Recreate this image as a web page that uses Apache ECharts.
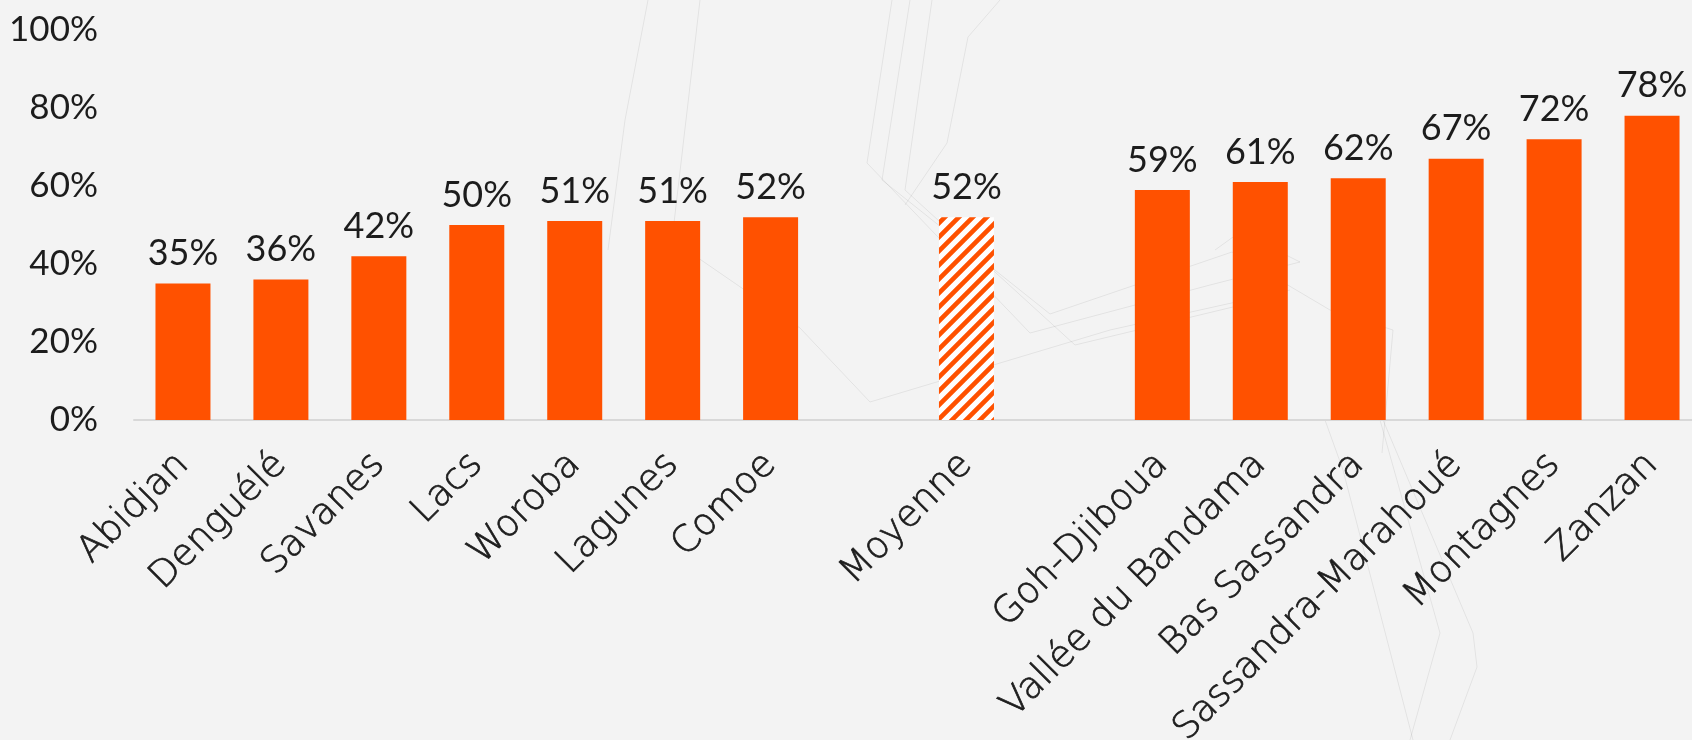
<!DOCTYPE html>
<html>
<head>
<meta charset="utf-8">
<title>Taux par région</title>
<script src="https://cdn.jsdelivr.net/npm/echarts@6/dist/echarts.min.js"></script>
<style>
  html, body { margin: 0; padding: 0; background: #f3f3f3; }
  #chart { width: 1692px; height: 740px; }
</style>
</head>
<body>
<div id="chart"></div>
<script>
// Regions sorted by rate, with the national average in the middle
// (empty strings are spacer slots on the category axis).
const categories = [
  'Abidjan', 'Denguélé', 'Savanes', 'Lacs', 'Woroba', 'Lagunes', 'Comoe',
  '', 'Moyenne', '',
  'Goh-Djiboua', 'Vallée du Bandama', 'Bas Sassandra', 'Sassandra-Marahoué', 'Montagnes', 'Zanzan'
];
const rates = [
  0.35, 0.36, 0.42, 0.50, 0.51, 0.51, 0.52,
  null, 0.52, null,
  0.59, 0.61, 0.62, 0.67, 0.72, 0.78
];
const averageLabel = 'Moyenne';
const yTicks = [0, 0.2, 0.4, 0.6, 0.8, 1];

const ORANGE = '#FF5100';
const FONT = 'Lato, "Open Sans", sans-serif';
const WIDE_FONT = '"DejaVu Sans", Lato, sans-serif';
const TEXT = '#1c1c1c';

// Diagonal "/" hatch used for the average bar
function hatchTile(size, width) {
  const c = document.createElement('canvas');
  c.width = size; c.height = size;
  const g = c.getContext('2d');
  g.fillStyle = '#ffffff';
  g.fillRect(0, 0, size, size);
  g.strokeStyle = ORANGE;
  g.lineWidth = width;
  g.beginPath();
  g.moveTo(-size / 2, size / 2); g.lineTo(size / 2, -size / 2);
  g.moveTo(0, size); g.lineTo(size, 0);
  g.moveTo(size / 2, size * 1.5); g.lineTo(size * 1.5, size / 2);
  g.stroke();
  return c;
}
const hatch = { image: hatchTile(14, 4.6), repeat: 'repeat' };

const seriesData = rates.map((v, i) => {
  if (v === null) return { value: null };
  if (categories[i] === averageLabel) {
    return { value: v, itemStyle: { color: hatch } };
  }
  return { value: v };
});

// Faint decorative circuit lines in the backdrop
const deco = [
  [[892, 0], [867, 163], [1030, 333], [1210, 285], [1300, 262]],
  [[910, 0], [882, 180], [1050, 314], [1232, 252], [1330, 310], [1393, 330], [1382, 453]],
  [[932, 0], [905, 190], [1075, 345], [1262, 300]],
  [[1000, 0], [968, 37], [947, 143], [905, 205]],
  [[800, 328], [870, 402], [1110, 330], [1290, 290]],
  [[700, 0], [672, 240], [800, 328]],
  [[648, 0], [625, 120], [608, 250]],
  [[1325, 420], [1343, 470], [1413, 740]],
  [[1380, 420], [1440, 633], [1410, 740]],
  [[1383, 420], [1473, 633], [1477, 667], [1450, 740]],
  [[1215, 250], [1240, 232], [1300, 262]]
];

const chart = echarts.init(document.getElementById('chart'), null, { renderer: 'canvas' });
chart.setOption({
  backgroundColor: '#f3f3f3',
  animation: false,
  graphic: deco.map(pts => ({
    type: 'polyline',
    z: 0,
    silent: true,
    shape: { points: pts },
    style: { stroke: 'rgba(0,0,0,0.065)', lineWidth: 1, fill: null }
  })),
  grid: {
    left: 134, top: 30, width: 1567, height: 390,
    containLabel: false, outerBoundsMode: 'none'
  },
  xAxis: {
    type: 'category',
    data: categories,
    axisLine: { show: true, lineStyle: { color: '#d8d8d8', width: 2 } },
    axisTick: { show: false },
    axisLabel: {
      interval: 0,
      rotate: 45,
      margin: 39,
      fontFamily: WIDE_FONT,
      fontWeight: 200,
      fontSize: 37,
      color: TEXT,
      textBorderColor: TEXT,
      textBorderWidth: 0.7
    },
    splitLine: { show: false }
  },
  yAxis: {
    type: 'value',
    min: yTicks[0],
    max: yTicks[yTicks.length - 1],
    interval: yTicks[1] - yTicks[0],
    axisLine: { show: false },
    axisTick: { show: false },
    splitLine: { show: false },
    axisLabel: {
      margin: 36,
      fontFamily: FONT,
      fontSize: 35,
      color: TEXT,
      formatter: v => Math.round(v * 100) + '%'
    }
  },
  series: [{
    type: 'bar',
    data: seriesData,
    barWidth: 55,
    itemStyle: { color: ORANGE },
    label: {
      show: true,
      position: 'top',
      distance: 12,
      fontFamily: FONT,
      fontSize: 36,
      color: TEXT,
      formatter: p => p.value == null ? '' : Math.round(p.value * 100) + '%'
    }
  }]
});
</script>
</body>
</html>
